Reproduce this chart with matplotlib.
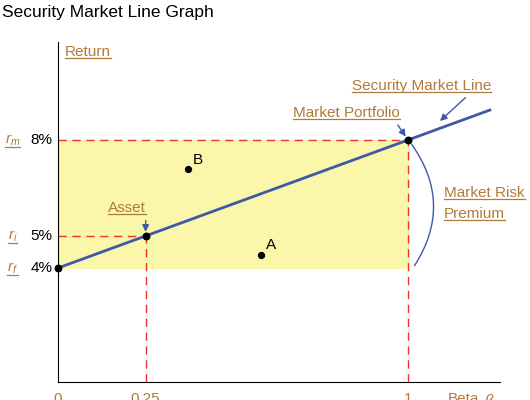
import matplotlib
matplotlib.use("Agg")
import matplotlib.pyplot as plt
from matplotlib.patches import Rectangle
from matplotlib.lines import Line2D
from matplotlib.text import Text

plt.rcParams['font.family'] = ['Liberation Sans', 'DejaVu Sans']
plt.rcParams['mathtext.fontset'] = 'custom'
plt.rcParams['mathtext.rm'] = 'Liberation Sans'
plt.rcParams['mathtext.it'] = 'Liberation Sans:italic'

# Data
rf = 4.0
rm = 8.0
beta_asset = 0.25
r_asset = 5.0
beta_line = [0.0, 1.234]
points_ab = {'A': (0.58, 4.41), 'B': (0.37, 7.09)}
xtick_vals = [0, 0.25, 1]
xtick_labels = ['0', '0.25', '1']

BROWN = '#B07A3A'
BLUE = '#4058A8'
RED = '#F03030'

fig = plt.figure(figsize=(5.3, 4), dpi=100)
ax = fig.add_axes([58/530, (400-382)/400, (500-58)/530, (382-42)/400])
ax.set_xlim(0, (500-58)/350)
ax.set_ylim(4 - 114/32, 8 + 98/32)
for s in ['top', 'right']:
    ax.spines[s].set_visible(False)
ax.set_xticks([]); ax.set_yticks([])
ymin = ax.get_ylim()[0]


def P(x, y):
    return ((x - 58) / 350, 4 + (268 - y) / 32)


underlined = []

ax.add_patch(Rectangle((0, rf), 1, rm - rf, color='#FAF6AA', zorder=0))
dash = dict(color=RED, lw=1, ls=(0, (6, 4)), zorder=1)
ax.plot([0, 1], [rm, rm], **dash)
ax.plot([0, beta_asset], [r_asset, r_asset], **dash)
ax.plot([beta_asset, beta_asset], [ymin, r_asset], **dash)
ax.plot([1, 1], [ymin, rm], **dash)

ax.plot(beta_line, [rf + (rm - rf) * b for b in beta_line], color=BLUE, lw=2, zorder=2)
ax.scatter([0, beta_asset, 1], [rf, r_asset, rm], color='black', s=22, zorder=3, clip_on=False)
for name, (bx, by) in points_ab.items():
    ax.scatter([bx], [by], color='black', s=18, zorder=3)
    ax.text(bx + 0.015, by + 0.08, name, fontsize=11, va='bottom')

for v, lab in zip(xtick_vals, xtick_labels):
    underlined.append(ax.text(v, ymin - 0.3, lab, color=BROWN, fontsize=11, ha='center', va='top', clip_on=False))
underlined.append(ax.text(*P(448, 392), 'Beta', color=BROWN, fontsize=11, va='top', clip_on=False))
ax.text(*P(484, 392), r'$\beta$', color=BROWN, fontsize=11, va='top', clip_on=False)
underlined.append(ax.text(*P(65, 52), 'Return', color=BROWN, fontsize=11, va='center', clip_on=False))
for sub, val, lab in [('m', rm, '8%'), ('i', r_asset, '5%'), ('f', rf, '4%')]:
    ax.text(-0.015, val, lab, fontsize=11, ha='right', va='center', clip_on=False)
    underlined.append(ax.text(-0.13, val, r'$r_{' + sub + '}$', color=BROWN, fontsize=11,
                              ha='center', va='center', clip_on=False))

aprops = dict(arrowstyle='-|>', color=BLUE, lw=1, mutation_scale=10, shrinkB=3)
underlined.append(ax.annotate('Asset', xy=(beta_asset, r_asset), xytext=P(108, 208), color=BROWN, fontsize=11,
                              va='center', arrowprops=dict(aprops, relpos=(1, 0.3))))
underlined.append(ax.annotate('Market Portfolio', xy=(1, rm), xytext=P(293, 113), color=BROWN, fontsize=11,
                              va='center', arrowprops=dict(aprops, relpos=(0.95, 0))))
underlined.append(ax.annotate('Security Market Line', xy=P(440, 121), xytext=P(352, 86), color=BROWN,
                              fontsize=11, va='center', arrowprops=dict(aprops, relpos=(0.85, 0), shrinkB=0),
                              annotation_clip=False))
ax.annotate('', xy=P(413, 268), xytext=P(410, 142),
            arrowprops=dict(arrowstyle='-', color=BLUE, lw=1, connectionstyle='arc3,rad=-0.35'))
underlined.append(ax.text(*P(444, 193), 'Market Risk', color=BROWN, fontsize=11, va='center', clip_on=False))
underlined.append(ax.text(*P(444, 214), 'Premium', color=BROWN, fontsize=11, va='center', clip_on=False))

fig.text(2/530, 1 - 12/400, 'Security Market Line Graph', fontsize=12.5, va='center')

# underline labels
fig.canvas.draw()
r = fig.canvas.get_renderer()
for t in underlined:
    bb = Text.get_window_extent(t, r)
    y = bb.y0 + 1
    fig.add_artist(Line2D([bb.x0 / 530, bb.x1 / 530], [y / 400, y / 400], color=BROWN, lw=0.9))

fig.savefig('out.png', dpi=100)
